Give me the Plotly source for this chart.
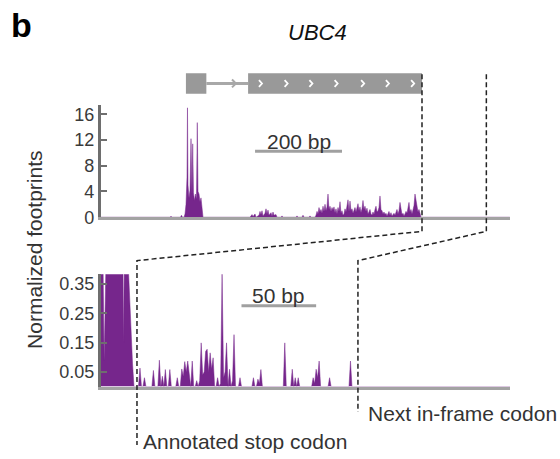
import plotly.graph_objects as go

W, H = 560, 459

# ---------------- data ----------------
# top panel (nucleotide positions along UBC4 locus, normalized footprints)
top_sparse_nt = [0, 159.4, 161.7, 164.0, 183.5, 185.8, 188.1,
                 191.6, 193.9, 196.2, 198.5, 199.6, 200.8, 203.1, 205.4, 207.7, 210.0,
                 211.6, 213.4, 215.7, 218.0, 220.3, 222.2, 223.8, 226.1, 228.4, 230.7,
                 233.0, 235.3,
                 343.4, 348.0, 350.3, 354.9, 357.2, 364.1, 366.4, 368.7, 371.0, 373.3,
                 377.9, 380.2, 382.5, 384.8, 387.1, 391.7, 394.0, 396.3, 398.6, 403.2,
                 405.5, 414.7, 417.0, 419.3, 449.2, 451.5, 453.8, 463.0, 465.3, 467.6,
                 479.1, 481.4, 483.7, 492.9]
top_sparse_fp = [0, 0, 0.15, 0, 0, 0.3, 0,
                 0, 0.5, 2.0, 6.2, 17.0, 5.0, 3.0, 4.2, 12.2, 3.5,
                 11.4, 3.8, 2.6, 3.6, 2.8, 14.7, 4.0, 3.6, 2.4, 3.0,
                 1.2, 0,
                 0, 0.4, 0.1, 0.5, 0, 0.3, 0.9, 0.4, 1.0, 0.2,
                 0.6, 1.3, 0.5, 1.1, 0.3, 0.7, 0.2, 0.8, 0.3, 0.4,
                 0, 0, 0.2, 0, 0, 0.2, 0, 0, 0.3, 0,
                 0, 0.2, 0, 0]
top_dense_start_nt = 495.2
top_bin_nt = 2.3
top_dense_fp = [0.3, 0.9, 0.5, 1.5, 0.8, 1.2, 0.6, 1.7, 0.9, 2.0,
                1.0, 1.6, 3.6, 1.2, 1.7, 0.9, 1.5, 1.1, 1.6, 0.7,
                1.3, 0.5, 1.5, 0.9, 2.4, 0.6, 1.0, 0.3, 0.5, 1.3,
                0.8, 1.5, 2.7, 0.9, 2.5, 1.0, 1.3, 0.6, 1.2, 1.5,
                0.8, 1.7, 2.1, 1.0, 1.6, 0.7, 1.3, 2.6, 1.2, 1.7,
                0.9, 1.4, 0.5, 0.8, 1.2, 0.5, 0.3, 0.8, 0.4, 1.2,
                1.7, 0.8, 1.0, 1.5, 3.3, 1.2, 1.0, 0.5, 0.8, 0.4,
                0.6, 0.2, 0.5, 0.9, 0.3, 0.7, 0.2, 0.4, 0.6, 0.3,
                0.7, 1.2, 0.5, 1.0, 2.3, 0.8, 0.4, 0.6, 0.2, 0.5,
                0.9, 0.6, 1.5, 2.3, 0.8, 1.2, 0.5, 1.1, 1.8, 3.6,
                2.5, 1.4, 0.8, 1.2, 0.4, 0.0]
top_tail_nt = [941]
top_tail_fp = [0]

# bottom panel (zoom around stop codon)
bottom_nt = [714, 715, 716, 717, 718, 719, 720, 721, 722, 723, 724, 725, 726, 727,
             728, 729, 730, 731, 732, 733, 734, 735, 736, 737,
             740, 741, 742, 743, 744, 745, 749, 750, 751, 753, 754, 755, 756, 757,
             758, 759, 760, 761, 762, 765, 766, 767, 768, 769, 770, 771, 772, 773,
             774, 775, 776, 777, 778, 779, 780, 781, 782, 783, 784, 785, 786, 787,
             788, 789, 790, 791, 792, 793, 794, 795, 796, 797, 798, 799, 800, 801,
             802, 803, 804, 805, 807, 808, 809, 816, 817, 818, 819, 820, 821, 822,
             823, 837, 838, 839, 842, 843, 844, 845, 846, 847, 848, 856, 857, 858,
             859, 860, 861, 862, 867, 868, 869, 881, 882, 883, 990]
bottom_fp = [0.6, 0.7, 0.55, 0.09, 0.6, 0.8, 0.9, 0.7, 0.8, 0.6, 0.9, 0.7, 0.8, 0.6,
             0.7, 0.8, 0.15, 0.7, 0.55, 0.42, 0.3, 0.18, 0.08, 0.0,
             0, 0.063, 0, 0, 0.03, 0, 0, 0.055, 0, 0, 0.09, 0, 0.035, 0,
             0.058, 0, 0, 0.058, 0, 0, 0.03, 0, 0, 0.06, 0.035, 0.085, 0.05, 0.087,
             0.03, 0, 0.087, 0, 0, 0.02, 0, 0.02, 0.149, 0.04, 0.05, 0.12, 0.127, 0.05,
             0.115, 0.06, 0.098, 0, 0, 0.03, 0, 0.01, 0.385, 0.03, 0.05, 0.149, 0, 0.059,
             0, 0.02, 0.177, 0, 0, 0.03, 0, 0, 0.03, 0, 0, 0.025, 0.01, 0.058,
             0, 0, 0.149, 0, 0, 0.059, 0, 0.03, 0, 0.03, 0, 0, 0.03, 0.01,
             0.059, 0.03, 0.087, 0, 0, 0.03, 0, 0, 0.087, 0, 0]

top_ticks = [0, 4, 8, 12, 16]
bottom_ticks = [0.05, 0.15, 0.25, 0.35]

gene_name = "UBC4"
gene_exon1_nt = [196, 243]
gene_exon2_nt = [339, 739]
gene_chevron_nt = [371, 430, 487, 545, 606, 663, 721]
intron_arrow_nt = 311
stop_nt = 739
next_nt = 887
scale_top_nt = [355, 555]      # 200 bp
scale_bottom_nt = [809, 859]   # 50 bp

# ---------------- layout geometry (pixels) ----------------
PURPLE = "#76268c"
FONT = "Liberation Sans, Arial, sans-serif"
X_L, X_R = 100.7, 510.0
TOP_Y0, TOP_Y1 = 221.5, 107.0
BOT_Y0, BOT_Y1 = 395.0, 280.0
top_xrange = [0, 941.4]
bot_xrange = [714.7, 714.7 + (X_R - X_L) / 1.493]
top_yrange = [0, 17.37]
bot_yrange = [0, 0.383]


def px(p):
    return p / W


def py(p):
    return 1 - p / H


def top_x_px(nt):
    return X_L + (nt - top_xrange[0]) / (top_xrange[1] - top_xrange[0]) * (X_R - X_L)


def bot_x_px(nt):
    return X_L + (nt - bot_xrange[0]) / (bot_xrange[1] - bot_xrange[0]) * (X_R - X_L)


top_x = list(top_sparse_nt) + [top_dense_start_nt + i * top_bin_nt for i in range(len(top_dense_fp))] + top_tail_nt
top_y = list(top_sparse_fp) + list(top_dense_fp) + top_tail_fp

fig = go.Figure()
fig.add_trace(go.Scatter(x=top_x, y=top_y, mode="lines", fill="tozeroy",
                         line=dict(color=PURPLE, width=0.5), fillcolor=PURPLE,
                         xaxis="x", yaxis="y", hoverinfo="skip"))
fig.add_trace(go.Scatter(x=bottom_nt, y=bottom_fp, mode="lines", fill="tozeroy",
                         line=dict(color=PURPLE, width=0.5), fillcolor=PURPLE,
                         xaxis="x2", yaxis="y2", hoverinfo="skip"))

xdom = [px(X_L), px(X_R)]
common_x = dict(showline=True, linecolor="#a3a3a3", linewidth=3, showticklabels=False,
                ticks="", showgrid=False, zeroline=False)
common_y = dict(showline=True, linecolor="#6e6e6e", linewidth=2.5, ticks="inside",
                ticklen=7, tickwidth=2, tickcolor="#6e6e6e", showgrid=False, zeroline=False,
                tickfont=dict(family=FONT, size=18, color="#3a3a3a"))

fig.update_layout(
    width=W, height=H, margin=dict(l=0, r=0, t=0, b=0),
    paper_bgcolor="white", plot_bgcolor="white", showlegend=False,
    xaxis=dict(domain=xdom, range=top_xrange, anchor="y", **common_x),
    yaxis=dict(domain=[py(TOP_Y0), py(TOP_Y1)], range=top_yrange, anchor="x",
               tickvals=top_ticks, ticktext=[str(v) for v in top_ticks], **common_y),
    xaxis2=dict(domain=xdom, range=bot_xrange, anchor="y2", **common_x),
    yaxis2=dict(domain=[py(BOT_Y0), py(BOT_Y1)], range=bot_yrange, anchor="x2",
                tickvals=bottom_ticks, ticktext=[f"{v:.2f}" for v in bottom_ticks], **common_y),
)

shapes = []
GENE_T, GENE_B, GENE_M = 74, 95, 84.5
BOX = "#999999"
# exons
for ex in (gene_exon1_nt, gene_exon2_nt):
    shapes.append(dict(type="rect", xref="x", yref="paper", x0=ex[0], x1=ex[1],
                       y0=py(GENE_B), y1=py(GENE_T), fillcolor=BOX, line=dict(width=0)))
# intron
shapes.append(dict(type="line", xref="x", yref="paper", x0=gene_exon1_nt[1], x1=gene_exon2_nt[0],
                   y0=py(GENE_M), y1=py(GENE_M), line=dict(color="#a8a8a8", width=3)))
shapes.append(dict(type="path", xref="x", yref="paper",
                   path=f"M {intron_arrow_nt - 9},{py(GENE_M - 4)} L {intron_arrow_nt},{py(GENE_M)} L {intron_arrow_nt - 9},{py(GENE_M + 4)}",
                   line=dict(color="#a8a8a8", width=2)))
for c in gene_chevron_nt:
    shapes.append(dict(type="path", xref="x", yref="paper",
                       path=f"M {c - 7},{py(GENE_M - 3.5)} L {c},{py(GENE_M)} L {c - 7},{py(GENE_M + 3.5)}",
                       line=dict(color="white", width=1.8)))

# scale bars
shapes.append(dict(type="line", xref="x", yref="paper", x0=scale_top_nt[0], x1=scale_top_nt[1],
                   y0=py(154), y1=py(154), line=dict(color="#a0a0a0", width=3)))
shapes.append(dict(type="line", xref="x2", yref="paper", x0=scale_bottom_nt[0], x1=scale_bottom_nt[1],
                   y0=py(312.3), y1=py(312.3), line=dict(color="#a0a0a0", width=3)))

# connectors
for nt, yend in ((stop_nt, 455), (next_nt, 421)):
    xt, xb = top_x_px(nt), bot_x_px(nt)
    path = (f"M {px(xt)},{py(75)} L {px(xt)},{py(236)} "
            f"L {px(xb)},{py(266)} L {px(xb)},{py(yend)}")
    shapes.append(dict(type="path", xref="paper", yref="paper", path=path,
                       line=dict(color="#222222", width=1.5, dash="5px,3px")))

fig.update_layout(shapes=shapes)

ann = []


def add_text(text, x, y, size, color="#333333", xanchor="center", yanchor="middle", angle=0):
    ann.append(dict(text=text, x=x, y=y, xref="paper", yref="paper", showarrow=False,
                    xanchor=xanchor, yanchor=yanchor, textangle=angle,
                    font=dict(family=FONT, size=size, color=color)))


add_text("<b>b</b>", px(21), py(25), 34, color="#000000")
add_text(f"<i>{gene_name}</i>", px(317), py(32), 22, color="#111111")
add_text("Normalized footprints", px(35), py(255), 21, angle=-90)
add_text("200 bp", px((top_x_px(scale_top_nt[0]) + top_x_px(scale_top_nt[1])) / 2), py(144), 21)
add_text("50 bp", px((bot_x_px(scale_bottom_nt[0]) + bot_x_px(scale_bottom_nt[1])) / 2), py(302), 21)
add_text("Next in-frame codon", px(366), py(423), 21, xanchor="left")
add_text("Annotated stop codon", px(141), py(451), 21, xanchor="left")
fig.update_layout(annotations=ann)

fig.write_html("out.html")
